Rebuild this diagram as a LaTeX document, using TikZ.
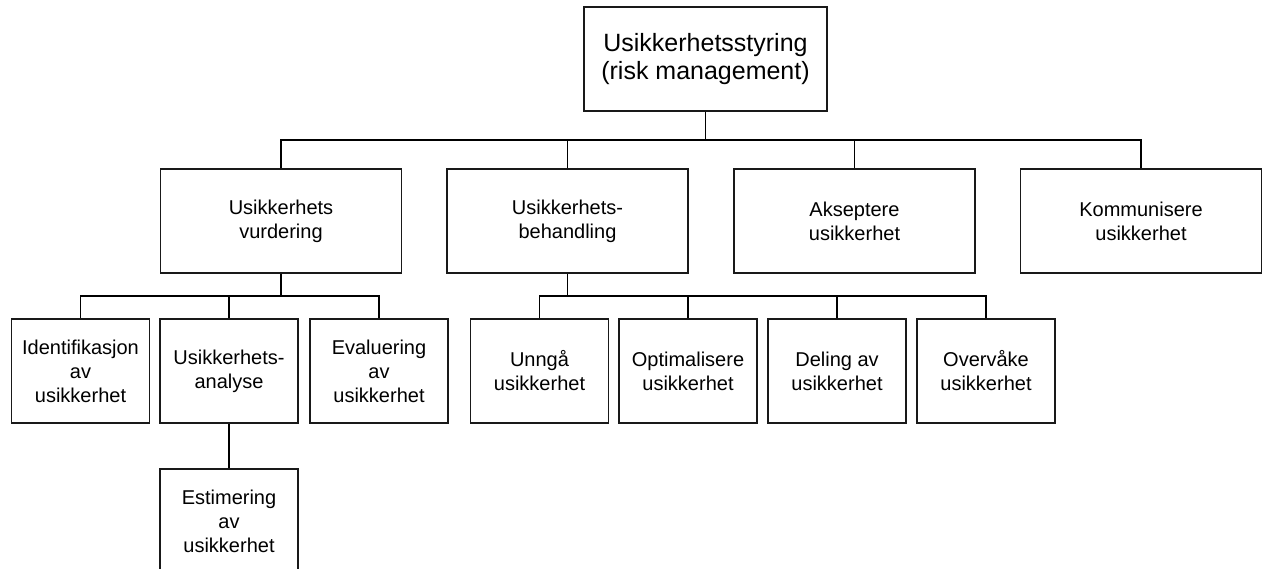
\documentclass[tikz,border=0pt]{standalone}
\usepackage{fontspec}
\setmainfont{Liberation Sans}
\begin{document}
\begin{tikzpicture}[x=1pt,y=-1pt,
  box/.style={draw=black!90,line width=1.2pt,inner sep=0pt,align=center,
    minimum height=104pt,font=\fontsize{20}{24}\selectfont},
  wide/.style={box,minimum width=241pt},
  small/.style={box,minimum width=138pt},
  link/.style={draw=black,line width=1.1pt},
  stem/.style={draw=black,line width=1.6pt}]
\useasboundingbox (0,0) rectangle (1263,569);
\clip (0,0) rectangle (1263,569);

% root
\node[box,minimum width=243pt,font=\fontsize{25}{28}\selectfont] (root) at (705.5,59)
  {Usikkerhetsstyring\\(risk management)};

% second level
\node[wide] (vurd) at (281,221) {Usikkerhets\\vurdering};
\node[wide] (beh)  at (567.5,221) {Usikkerhets-\\behandling};
\node[wide] (aks)  at (854.5,221) {Akseptere\\ usikkerhet};
\node[wide] (kom)  at (1141,221) {Kommunisere\\usikkerhet};

% third level under vurdering
\node[small] (ident) at (80.5,371) {Identifikasjon\\av\\usikkerhet};
\node[small] (anal)  at (229,371) {Usikkerhets-\\analyse};
\node[small] (eval)  at (379,371) {Evaluering\\av\\usikkerhet};
\node[small] (est)   at (229,521) {Estimering\\av\\usikkerhet};

% third level under behandling
\node[small] (unn) at (539.5,371) {Unngå\\usikkerhet};
\node[small] (opt) at (688,371) {Optimalisere\\usikkerhet};
\node[small] (del) at (837,371) {Deling av\\usikkerhet};
\node[small] (ovv) at (986,371) {Overvåke\\usikkerhet};

% bus levels
\coordinate (busA) at (0,140);
\coordinate (busB) at (0,296);

% root to second level
\path[stem] (root.south) -- (root.south |- busA);
\foreach \c in {vurd,beh,aks,kom}
  \path[link] (root.south |- busA) -| (\c.north);

% vurdering to its children
\path[stem] (vurd.south) -- (vurd.south |- busB);
\foreach \c in {ident,anal,eval}
  \path[link] (vurd.south |- busB) -| (\c.north);
\path[link] (anal.south) -- (est.north);

% behandling to its children
\path[stem] (beh.south) -- (beh.south |- busB);
\foreach \c in {unn,opt,del,ovv}
  \path[link] (beh.south |- busB) -| (\c.north);
\end{tikzpicture}
\end{document}
